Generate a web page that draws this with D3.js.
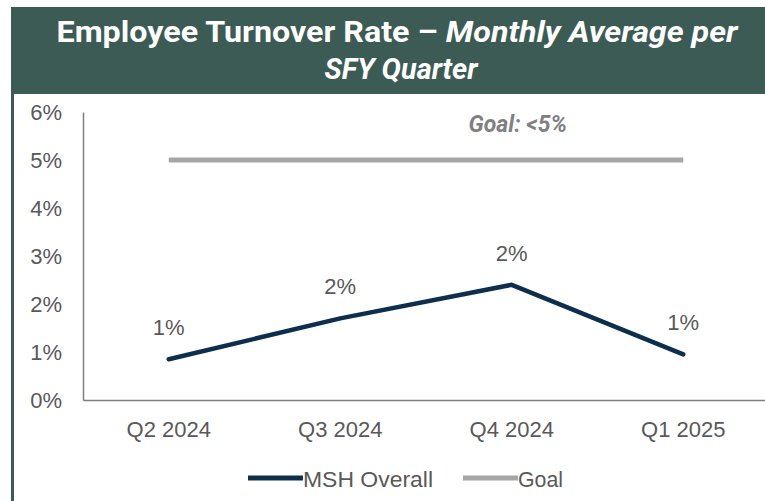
<!DOCTYPE html>
<html>
<head>
<meta charset="utf-8">
<script src="https://cdn.jsdelivr.net/npm/d3@7"></script>
<style>
  body { margin: 0; background: #fff; }
  svg { display: block; }
  .tick text { font-family: "Liberation Sans", Arial, sans-serif; font-size: 22px; fill: #595959; }
</style>
</head>
<body>
<div id="chart"></div>
<script>
// chart data
var quarters = ["Q2 2024", "Q3 2024", "Q4 2024", "Q1 2025"];
var mshOverall = [0.85, 1.7, 2.4, 0.95];
var pointLabels = ["1%", "2%", "2%", "1%"];
var goal = [5, 5, 5, 5];
var yTicks = [0, 1, 2, 3, 4, 5, 6];

var svgWidth = 765, svgHeight = 501;
var margin = { top: 112, right: -4, bottom: 101, left: 83 };
var width = svgWidth - margin.left - margin.right;
var height = svgHeight - margin.top - margin.bottom;

var svg = d3.select("#chart").append("svg")
  .attr("width", svgWidth)
  .attr("height", svgHeight);

// title banner
svg.append("rect")
  .attr("x", 11).attr("y", 7)
  .attr("width", svgWidth - 11).attr("height", 87)
  .attr("fill", "#3d5b55");

// left border
svg.append("rect")
  .attr("x", 11).attr("y", 94)
  .attr("width", 3).attr("height", svgHeight - 94)
  .attr("fill", "#3d5b55");

var title1 = svg.append("text")
  .attr("x", 397).attr("y", 42)
  .attr("text-anchor", "middle")
  .attr("textLength", 681).attr("lengthAdjust", "spacingAndGlyphs")
  .style("font-family", "Roboto, sans-serif")
  .style("font-weight", "bold")
  .style("font-size", "29px")
  .attr("fill", "#fff");
title1.append("tspan").text("Employee Turnover Rate \u2013 ");
title1.append("tspan").style("font-style", "italic").text("Monthly Average per");

svg.append("text")
  .attr("x", 401).attr("y", 79)
  .attr("text-anchor", "middle")
  .attr("textLength", 153).attr("lengthAdjust", "spacingAndGlyphs")
  .style("font-family", "Roboto, sans-serif")
  .style("font-weight", "bold")
  .style("font-style", "italic")
  .style("font-size", "29px")
  .attr("fill", "#fff")
  .text("SFY Quarter");

var chartGroup = svg.append("g")
  .attr("transform", `translate(${margin.left}, ${margin.top})`);

// scales
var xScale = d3.scaleBand()
  .domain(quarters)
  .range([0, width]);

var yScale = d3.scaleLinear()
  .domain([0, 6])
  .range([height, 0]);

var xCenter = d => xScale(d) + xScale.bandwidth() / 2;

// axes
var leftAxis = d3.axisLeft(yScale)
  .tickValues(yTicks)
  .tickSize(0)
  .tickPadding(21)
  .tickFormat(d => d + "%");

var yAxis = chartGroup.append("g").call(leftAxis);
yAxis.select(".domain").attr("stroke", "#7f7f7f").attr("stroke-width", 1.5);

var bottomAxis = d3.axisBottom(xScale)
  .tickSize(0)
  .tickPadding(21);

var xAxis = chartGroup.append("g")
  .attr("transform", `translate(0, ${height})`)
  .call(bottomAxis);
xAxis.select(".domain").attr("stroke", "#7f7f7f").attr("stroke-width", 1.5);

// goal line
var line = d3.line()
  .x((d, i) => xCenter(quarters[i]))
  .y(d => yScale(d));

chartGroup.append("path")
  .datum(goal)
  .attr("d", line)
  .attr("fill", "none")
  .attr("stroke", "#a6a6a6")
  .attr("stroke-width", 5);

// goal annotation
chartGroup.append("text")
  .attr("x", xCenter(quarters[2]) + 6)
  .attr("y", yScale(5) - 28)
  .attr("text-anchor", "middle")
  .style("font-family", "Roboto, sans-serif")
  .style("font-weight", "bold")
  .style("font-style", "italic")
  .style("font-size", "23px")
  .attr("fill", "#808080")
  .text("Goal: <5%");

// MSH overall line
chartGroup.append("path")
  .datum(mshOverall)
  .attr("d", line)
  .attr("fill", "none")
  .attr("stroke", "#0e2f4c")
  .attr("stroke-width", 4.5)
  .attr("stroke-linecap", "round")
  .attr("stroke-linejoin", "round");

// point labels
chartGroup.selectAll(".pointLabel")
  .data(mshOverall)
  .enter()
  .append("text")
  .classed("pointLabel", true)
  .attr("x", (d, i) => xCenter(quarters[i]))
  .attr("y", d => yScale(d) - 24)
  .attr("text-anchor", "middle")
  .style("font-family", "Liberation Sans, Arial, sans-serif")
  .style("font-size", "22px")
  .attr("fill", "#595959")
  .text((d, i) => pointLabels[i]);

// legend
var legend = svg.append("g")
  .attr("transform", "translate(0, 478)");

var legendItems = [
  { name: "MSH Overall", color: "#0e2f4c", x: 248, w: 55 },
  { name: "Goal", color: "#a6a6a6", x: 463, w: 55 }
];

legendItems.forEach(function (item) {
  legend.append("line")
    .attr("x1", item.x).attr("x2", item.x + item.w)
    .attr("y1", 0).attr("y2", 0)
    .attr("stroke", item.color)
    .attr("stroke-width", 5);
  legend.append("text")
    .attr("x", item.x + item.w)
    .attr("y", 9)
    .attr("textLength", item.name === "Goal" ? 45 : 130)
    .attr("lengthAdjust", "spacingAndGlyphs")
    .style("font-family", "Liberation Sans, Arial, sans-serif")
    .style("font-size", "22px")
    .attr("fill", "#595959")
    .text(item.name);
});
</script>
</body>
</html>
